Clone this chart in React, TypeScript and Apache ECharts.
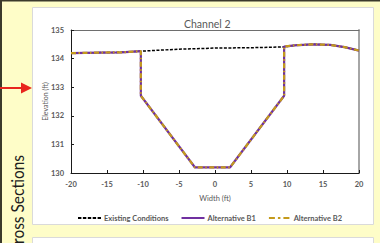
import React, { useEffect, useRef } from "react";
import * as echarts from "echarts";

const titleText = "Channel 2";
const sideText = "Cross Sections";
const xTitle = "Width (ft)";
const yTitle = "Elevation (ft)";
const seriesNames = ["Existing Conditions", "Alternative B1", "Alternative B2"];

const xExisting = [-20, -16, -13, -10.3, -5, -2, 0, 5, 9.6, 11, 13.5, 16, 18, 20];
const yExisting = [134.19, 134.21, 134.22, 134.26, 134.33, 134.35, 134.37, 134.38, 134.41, 134.46, 134.5, 134.48, 134.4, 134.28];

const xAlt = [-20, -16, -13, -10.3, -10.3, -2.8, 2.1, 9.6, 9.6, 11, 13.5, 16, 18, 20];
const yAltB1 = [134.19, 134.21, 134.22, 134.26, 132.7, 130.2, 130.2, 132.7, 134.42, 134.46, 134.5, 134.48, 134.4, 134.28];
const yAltB2 = [134.19, 134.21, 134.22, 134.26, 132.7, 130.2, 130.2, 132.7, 134.42, 134.46, 134.5, 134.48, 134.4, 134.28];

const xMin = -20, xMax = 20, xStep = 5;
const yMin = 130, yMax = 135, yStep = 1;

const FONT = "Lato, 'Open Sans', sans-serif";
const GRAY = "#595959";

const ICON_DASH = "path://M0,0h3.4v2h-3.4z M4.9,0h3.4v2h-3.4z M9.8,0h3.4v2h-3.4z M14.7,0h3.4v2h-3.4z M19.6,0h3.4v2h-3.4z";
const ICON_SOLID = "path://M0,0h23v2h-23z";
const ICON_DASHDOT = "path://M0,0h6v2h-6z M9,0h2.5v2h-2.5z M14.5,0h6v2h-6z";

const zip = (xs: number[], ys: number[]) => xs.map((x, i) => [x, ys[i]]);

export default function App() {
  const ref = useRef<HTMLDivElement>(null);
  useEffect(() => {
    if (!ref.current) return;
    const chart = echarts.init(ref.current, undefined, { renderer: "svg" });
    chart.setOption({
      animation: false,
      backgroundColor: "#FEFDC8",
      textStyle: { fontFamily: FONT },
      graphic: [
        { type: "rect", z: -100, shape: { x: 0, y: 0, width: 2, height: 243 }, style: { fill: "#3b3a2c" } },
        { type: "rect", z: -100, shape: { x: 0, y: 0, width: 380, height: 1.5 }, style: { fill: "#3b3a2c" } },
        { type: "rect", z: -100, shape: { x: 32.5, y: 7.5, width: 341, height: 217 }, style: { fill: "#ffffff", stroke: "#DADADA", lineWidth: 1 } },
        { type: "rect", z: -100, shape: { x: 32.5, y: 237.5, width: 341, height: 20 }, style: { fill: "#ffffff", stroke: "#DADADA", lineWidth: 1 } },
        { type: "line", z: 10, shape: { x1: 0, y1: 88, x2: 24, y2: 88 }, style: { stroke: "#E8251E", lineWidth: 2 } },
        { type: "polygon", z: 10, shape: { points: [[21, 82.5], [32, 88], [21, 93.5]] }, style: { fill: "#E8251E" } },
        {
          type: "text",
          z: 10,
          x: 17,
          y: 155,
          rotation: Math.PI / 2,
          scaleX: 0.86,
          style: {
            text: sideText,
            fontSize: 18,
            fontFamily: FONT,
            fill: "#1f1f1f",
            align: "right",
            verticalAlign: "middle",
            textAlign: "right",
            textVerticalAlign: "middle",
          },
        },
      ],
      title: {
        text: titleText,
        left: 179,
        top: 13,
        textStyle: { fontSize: 10.5, fontWeight: "normal", color: GRAY, fontFamily: FONT },
      },
      legend: {
        left: 73,
        top: 209,
        itemWidth: 23,
        itemHeight: 2,
        itemGap: 13,
        textStyle: { fontSize: 7.5, fontWeight: "bold", color: GRAY, fontFamily: FONT, padding: [0, 0, 0, -2] },
        data: [
          { name: seriesNames[0], icon: ICON_DASH },
          { name: seriesNames[1], icon: ICON_SOLID },
          { name: seriesNames[2], icon: ICON_DASHDOT },
        ],
      },
      grid: { left: 71, right: 21, top: 30, bottom: 70 },
      xAxis: [
        {
          type: "value",
          min: xMin,
          max: xMax,
          interval: xStep,
          name: xTitle,
          nameLocation: "middle",
          nameGap: 21,
          nameMoveOverlap: false,
          nameTextStyle: { fontSize: 7.5, color: GRAY, fontFamily: FONT },
          axisLine: { onZero: false, lineStyle: { color: "#1a1a1a", width: 1 } },
          axisTick: { show: true, inside: true, length: 3, lineStyle: { color: "#1a1a1a" } },
          axisLabel: { fontSize: 7.5, fontWeight: "bold", color: GRAY, margin: 7, fontFamily: FONT },
          splitLine: { show: false },
        },
        {
          type: "value",
          position: "top",
          min: xMin,
          max: xMax,
          axisLine: { show: true, onZero: false, lineStyle: { color: "#6e6e6e", width: 1 } },
          axisTick: { show: false },
          axisLabel: { show: false },
          splitLine: { show: false },
        },
      ],
      yAxis: [
        {
          type: "value",
          min: yMin,
          max: yMax,
          interval: yStep,
          name: yTitle,
          nameLocation: "middle",
          nameGap: 23,
          nameMoveOverlap: false,
          nameTextStyle: { fontSize: 7, color: GRAY, fontFamily: FONT },
          axisLine: { show: true, onZero: false, lineStyle: { color: "#1a1a1a", width: 1 } },
          axisTick: { show: true, inside: true, length: 3, lineStyle: { color: "#1a1a1a" } },
          axisLabel: { fontSize: 7.5, fontWeight: "bold", color: GRAY, margin: 7, fontFamily: FONT },
          splitLine: { show: false },
        },
        {
          type: "value",
          position: "right",
          min: yMin,
          max: yMax,
          axisLine: { show: true, onZero: false, lineStyle: { color: "#A6A6A6", width: 2 } },
          axisTick: { show: false },
          axisLabel: { show: false },
          splitLine: { show: false },
        },
      ],
      series: [
        {
          name: seriesNames[0],
          type: "line",
          data: zip(xExisting, yExisting),
          symbol: "none",
          lineStyle: { color: "#000000", width: 1.5, type: [3, 1.5] },
          itemStyle: { color: "#000000" },
          z: 2,
        },
        {
          name: seriesNames[1],
          type: "line",
          data: zip(xAlt, yAltB1),
          symbol: "none",
          lineStyle: { color: "#7030A0", width: 2.2, type: "solid" },
          itemStyle: { color: "#7030A0" },
          z: 3,
        },
        {
          name: seriesNames[2],
          type: "line",
          data: zip(xAlt, yAltB2),
          symbol: "none",
          lineStyle: { color: "#C49A1C", width: 2.2, type: [5, 2.5, 1.5, 2.5] },
          itemStyle: { color: "#C49A1C" },
          z: 4,
        },
      ],
    });
    return () => chart.dispose();
  }, []);
  return (
    <div
      ref={ref}
      style={{ position: "absolute", left: 0, top: 0, width: 380, height: 243 }}
    />
  );
}
